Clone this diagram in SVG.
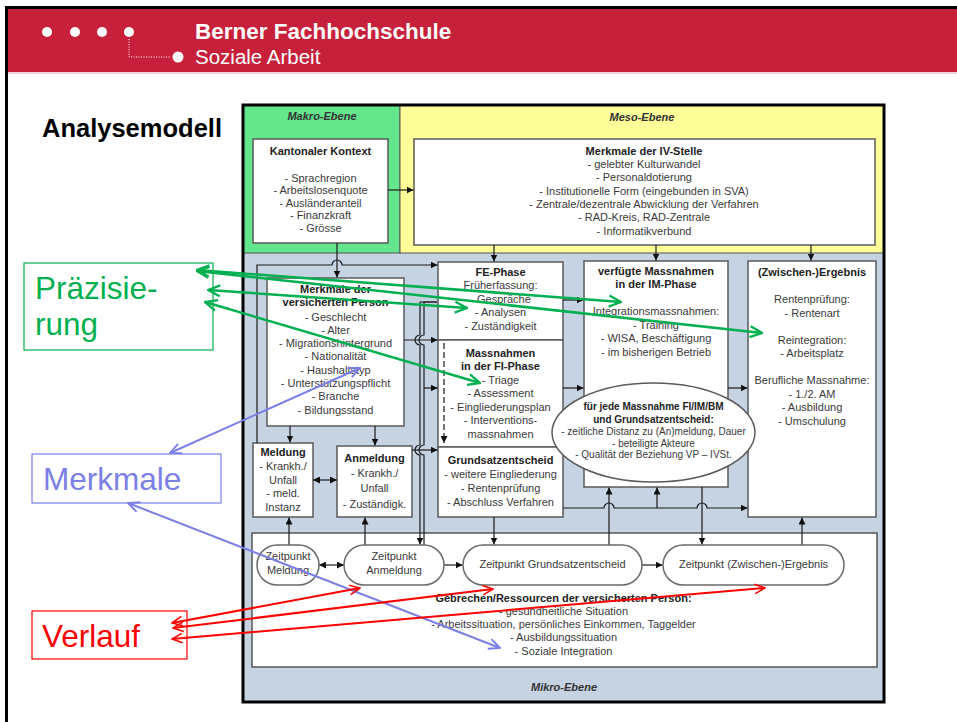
<svg xmlns="http://www.w3.org/2000/svg" width="957" height="722" viewBox="0 0 957 722">
<defs>
<style>
.t{font-family:"Liberation Sans",Arial,sans-serif;font-size:11px;fill:#3a3a3a;text-anchor:middle}
.b{font-weight:bold;fill:#222}
.e{font-size:10px}
.lvl{font-family:"Liberation Sans",Arial,sans-serif;font-size:11px;font-weight:bold;font-style:italic;fill:#333;text-anchor:middle}
.box{fill:#fff;stroke:#5a5a5a;stroke-width:1.5}
.pill{fill:#fff;stroke:#6a6a6a;stroke-width:1.5}
.c{fill:none;stroke:#1a1a1a;stroke-width:1.2}
.ca{fill:none;stroke:#1a1a1a;stroke-width:1.2;marker-end:url(#ah)}
.cb{fill:none;stroke:#1a1a1a;stroke-width:1.2;marker-end:url(#ah);marker-start:url(#ah)}
.big{font-family:"Liberation Sans",Arial,sans-serif;font-size:31.5px}
.gl{fill:none;stroke:#00b050;stroke-width:2.5;marker-start:url(#ga);marker-end:url(#ga)}
.bl{fill:none;stroke:#7b7fe6;stroke-width:2;marker-start:url(#ba);marker-end:url(#ba)}
.rl{fill:none;stroke:#ff0000;stroke-width:2;marker-start:url(#ra);marker-end:url(#ra)}
</style>
<marker id="ah" viewBox="0 0 10 10" refX="10" refY="5" markerWidth="7" markerHeight="7" markerUnits="userSpaceOnUse" orient="auto-start-reverse"><path d="M0,0 L10,5 L0,10 z" fill="#111"/></marker>
<marker id="ga" viewBox="0 0 14 14" refX="13" refY="7" markerWidth="14" markerHeight="14" markerUnits="userSpaceOnUse" orient="auto-start-reverse"><path d="M1,1.5 L13,7 L1,12.5" fill="none" stroke="#00b050" stroke-width="2.3"/></marker>
<marker id="ba" viewBox="0 0 14 14" refX="13" refY="7" markerWidth="13" markerHeight="13" markerUnits="userSpaceOnUse" orient="auto-start-reverse"><path d="M1,1.5 L13,7 L1,12.5" fill="none" stroke="#7b7fe6" stroke-width="2"/></marker>
<marker id="ra" viewBox="0 0 14 14" refX="13" refY="7" markerWidth="12" markerHeight="12" markerUnits="userSpaceOnUse" orient="auto-start-reverse"><path d="M1,1.5 L13,7 L1,12.5" fill="none" stroke="#ff0000" stroke-width="1.8"/></marker>
</defs>

<rect x="0" y="0" width="957" height="722" fill="#fff"/>

<g id="header">
<rect x="8" y="9" width="949" height="63" fill="#c7203b"/>
<line x1="8" y1="73" x2="957" y2="73" stroke="#f2c6cd" stroke-width="1.5"/>
<path d="M6.5,722 V7.5 H957" fill="none" stroke="#000" stroke-width="3"/>
<g fill="#fff">
<circle cx="47" cy="32" r="5"/><circle cx="75" cy="32" r="5"/><circle cx="102" cy="32" r="5"/><circle cx="129" cy="32" r="5"/><circle cx="178" cy="57" r="5.5"/>
</g>
<path d="M129,39 V57 H171" fill="none" stroke="#fff" stroke-width="1" stroke-dasharray="1 1.5"/>
<text x="195" y="39" font-family="Liberation Sans,Arial,sans-serif" font-size="22.5" font-weight="bold" fill="#fff">Berner Fachhochschule</text>
<text x="195" y="64" font-family="Liberation Sans,Arial,sans-serif" font-size="20.5" fill="#fff">Soziale Arbeit</text>
</g>

<text x="42" y="137" font-family="Liberation Sans,Arial,sans-serif" font-size="25.5" font-weight="bold" fill="#000">Analysemodell</text>

<g id="frame">
<rect x="243" y="105" width="641" height="597" fill="#c6d3e3"/>
<rect x="243" y="105" width="157" height="148" fill="#64e68c" stroke="#555" stroke-width="1"/>
<rect x="400" y="105" width="484" height="148" fill="#ffff99" stroke="#555" stroke-width="1"/>
<rect x="252" y="533" width="625" height="134" fill="#fff" stroke="#555" stroke-width="1.5"/>
<rect x="243" y="105" width="641" height="597" fill="none" stroke="#000" stroke-width="3"/>
<text class="lvl" x="322" y="120">Makro-Ebene</text>
<text class="lvl" x="642" y="121">Meso-Ebene</text>
<text class="lvl" x="564" y="691">Mikro-Ebene</text>
</g>

<g id="kanton">
<rect class="box" x="253" y="139" width="135" height="104"/>
<text class="t b" x="320.5" y="155">Kantonaler Kontext</text>
<text class="t" x="320.5" y="181.5">- Sprachregion</text>
<text class="t" x="320.5" y="194">- Arbeitslosenquote</text>
<text class="t" x="320.5" y="206.5">- Ausländeranteil</text>
<text class="t" x="320.5" y="219">- Finanzkraft</text>
<text class="t" x="320.5" y="231.5">- Grösse</text>
</g>

<g id="ivstelle">
<rect class="box" x="414" y="139" width="461" height="106"/>
<text class="t b" x="644" y="155">Merkmale der IV-Stelle</text>
<text class="t" x="644" y="168">- gelebter Kulturwandel</text>
<text class="t" x="644" y="181">- Personaldotierung</text>
<text class="t" x="644" y="194.5">- Institutionelle Form (eingebunden in SVA)</text>
<text class="t" x="644" y="208">- Zentrale/dezentrale Abwicklung der Verfahren</text>
<text class="t" x="644" y="221">- RAD-Kreis, RAD-Zentrale</text>
<text class="t" x="644" y="234.5">- Informatikverbund</text>
</g>

<g id="person">
<rect class="box" x="267" y="278" width="137" height="148"/>
<text class="t b" x="335.5" y="293">Merkmale der</text>
<text class="t b" x="335.5" y="306">versicherten Person</text>
<text class="t" x="335.5" y="320.5">- Geschlecht</text>
<text class="t" x="335.5" y="333.5">- Alter</text>
<text class="t" x="335.5" y="347">- Migrationshintergrund</text>
<text class="t" x="335.5" y="360">- Nationalität</text>
<text class="t" x="335.5" y="373.5">- Haushaltstyp</text>
<text class="t" x="335.5" y="387">- Unterstützungspflicht</text>
<text class="t" x="335.5" y="400">- Branche</text>
<text class="t" x="335.5" y="413.5">- Bildungsstand</text>
</g>

<g id="meldung">
<rect class="box" x="253" y="443" width="60" height="74"/>
<text class="t b" x="283" y="455.5">Meldung</text>
<text class="t" x="283" y="470">- Krankh./</text>
<text class="t" x="283" y="483.5">Unfall</text>
<text class="t" x="283" y="497">- meld.</text>
<text class="t" x="283" y="511">Instanz</text>
</g>

<g id="anmeldung">
<rect class="box" x="337" y="446" width="75" height="71"/>
<text class="t b" x="374.5" y="462">Anmeldung</text>
<text class="t" x="374.5" y="477">- Krankh./</text>
<text class="t" x="374.5" y="492">Unfall</text>
<text class="t" x="374.5" y="508">- Zuständigk.</text>
</g>

<g id="fephase">
<rect class="box" x="438" y="262" width="125" height="78"/>
<text class="t b" x="500.5" y="276">FE-Phase</text>
<text class="t" x="500.5" y="289">Früherfassung:</text>
<text class="t" x="500.5" y="303">- Gespräche</text>
<text class="t" x="500.5" y="316">- Analysen</text>
<text class="t" x="500.5" y="330">- Zuständigkeit</text>
</g>

<g id="fiphase">
<rect class="box" x="438" y="340" width="125" height="107"/>
<text class="t b" x="500.5" y="357">Massnahmen</text>
<text class="t b" x="500.5" y="370">in der FI-Phase</text>
<text class="t" x="500.5" y="383.5">- Triage</text>
<text class="t" x="500.5" y="397">- Assessment</text>
<text class="t" x="500.5" y="411">- Eingliederungsplan</text>
<text class="t" x="500.5" y="424">- Interventions-</text>
<text class="t" x="500.5" y="437.5">massnahmen</text>
</g>

<g id="grundsatz">
<rect class="box" x="438" y="447" width="125" height="70"/>
<text class="t b" x="500.5" y="463.5">Grundsatzentscheid</text>
<text class="t" x="500.5" y="478">- weitere Eingliederung</text>
<text class="t" x="500.5" y="492">- Rentenprüfung</text>
<text class="t" x="500.5" y="505.5">- Abschluss Verfahren</text>
</g>

<g id="imphase">
<rect class="box" x="584" y="261" width="144" height="226"/>
<text class="t b" x="656" y="275">verfügte Massnahmen</text>
<text class="t b" x="656" y="288">in der IM-Phase</text>
<text class="t" x="656" y="315">Integrationsmassnahmen:</text>
<text class="t" x="656" y="329">- Training</text>
<text class="t" x="656" y="342">- WISA, Beschäftigung</text>
<text class="t" x="656" y="355.5">- im bisherigen Betrieb</text>
</g>

<g id="ergebnis">
<rect class="box" x="748" y="261" width="128" height="256"/>
<text class="t b" x="812" y="276">(Zwischen-)Ergebnis</text>
<text class="t" x="812" y="303">Rentenprüfung:</text>
<text class="t" x="812" y="316.5">- Rentenart</text>
<text class="t" x="812" y="343.5">Reintegration:</text>
<text class="t" x="812" y="357">- Arbeitsplatz</text>
<text class="t" x="812" y="384">Berufliche Massnahme:</text>
<text class="t" x="812" y="397.5">- 1./2. AM</text>
<text class="t" x="812" y="411">- Ausbildung</text>
<text class="t" x="812" y="424.5">- Umschulung</text>
</g>

<g id="connectors">
<path class="ca" d="M388,190 H413.5"/>
<path class="ca" d="M337,243 V277.5"/>
<path class="ca" d="M494,245 V261.5"/>
<path class="ca" d="M656,245 V260.5"/>
<path class="ca" d="M811,245 V260.5"/>
<path class="ca" d="M257,443 V265 H332 A5,5 0 0 1 342,265 H437.5"/>
<path class="ca" d="M404,340 H437.5"/>
<path class="ca" d="M290,426 V442.5"/>
<path class="ca" d="M375,426 V445.5"/>
<path class="cb" d="M313,480 H337"/>
<path class="ca" d="M412,450 H437.5"/>
<path class="ca" d="M437,302 H420 V335 A5,5 0 0 0 420,345 V445 A5,5 0 0 0 420,455 V544.5"/>
<path class="c" d="M424,545 V455 A5,5 0 0 1 424,445 V345 A5,5 0 0 1 424,335 V302 H437"/>
<path class="ca" d="M424,388 H437.5"/>
<path class="ca" d="M444,343 V443" stroke-dasharray="6 3"/>
<path class="ca" d="M563,300 H583.5"/>
<path class="ca" d="M563,388 H583.5"/>
<path class="ca" d="M728,388 H747.5"/>
<path class="ca" d="M563,508 H604 A5,5 0 0 1 614,508 H697 A5,5 0 0 1 707,508 H747.5"/>
<path class="ca" d="M657,508 V487.5"/>
<path class="ca" d="M609,545 V487.5"/>
<path class="ca" d="M702,487 V544.5"/>
<path class="ca" d="M802,545 V517.5"/>
<path class="ca" d="M289,545 V517.5"/>
<path class="ca" d="M365,545 V517.5"/>
<path class="ca" d="M494,517 V544.5"/>
<path class="cb" d="M319,565 H344"/>
<path class="ca" d="M444,565 H462.5"/>
<path class="ca" d="M642,565 H662.5"/>
</g>

<g id="ellipse">
<ellipse cx="653.5" cy="432.5" rx="101.5" ry="49.5" fill="#fff" stroke="#5a5a5a" stroke-width="1.5"/>
<text class="t b e" x="653.5" y="410">für jede Massnahme FI/IM/BM</text>
<text class="t b e" x="653.5" y="423">und Grundsatzentscheid:</text>
<text class="t e" x="653.5" y="435">- zeitliche Distanz zu (An)meldung, Dauer</text>
<text class="t e" x="653.5" y="446.5">- beteiligte Akteure</text>
<text class="t e" x="653.5" y="458">- Qualität der Beziehung VP – IVSt.</text>
</g>

<g id="zp-meldung">
<rect class="pill" x="257" y="545" width="62" height="40" rx="20"/>
<text class="t" x="288" y="560">Zeitpunkt</text>
<text class="t" x="288" y="573.5">Meldung</text>
</g>
<g id="zp-anmeldung">
<rect class="pill" x="344" y="545" width="100" height="40" rx="20"/>
<text class="t" x="394" y="559.5">Zeitpunkt</text>
<text class="t" x="394" y="573.5">Anmeldung</text>
</g>
<g id="zp-grundsatz">
<rect class="pill" x="463" y="545" width="179" height="40" rx="20"/>
<text class="t" x="552.5" y="568">Zeitpunkt Grundsatzentscheid</text>
</g>
<g id="zp-ergebnis">
<rect class="pill" x="663" y="545" width="181" height="40" rx="20"/>
<text class="t" x="753.5" y="568">Zeitpunkt (Zwischen-)Ergebnis</text>
</g>

<g id="gebrechen">
<text class="t b" x="563.5" y="602">Gebrechen/Ressourcen der versicherten Person:</text>
<text class="t" x="563.5" y="615">- gesundheitliche Situation</text>
<text class="t" x="563.5" y="628">- Arbeitssituation, persönliches Einkommen, Taggelder</text>
<text class="t" x="563.5" y="641">- Ausbildungssituation</text>
<text class="t" x="563.5" y="654.5">- Soziale Integration</text>
</g>

<g id="praezisierung">
<rect x="24" y="263" width="189" height="87" fill="none" stroke="#00b050" stroke-width="1.2"/>
<text class="big" x="35" y="299" fill="#00b050">Präzisie-</text>
<text class="big" x="35" y="335" fill="#00b050">rung</text>
</g>
<g id="merkmale">
<rect x="32" y="454" width="189" height="49" fill="none" stroke="#7b7fe6" stroke-width="1.2"/>
<text class="big" x="43" y="490" fill="#7b7fe6">Merkmale</text>
</g>
<g id="verlauf">
<rect x="32" y="611" width="155" height="48" fill="none" stroke="#ff0000" stroke-width="1.2"/>
<text class="big" x="42" y="647" fill="#ff0000">Verlauf</text>
</g>

<g id="annotation-connectors">
<path class="gl" d="M197,270 L621,302"/>
<path class="gl" d="M197,271 L762,333"/>
<path class="gl" d="M208,290 L467,308"/>
<path class="gl" d="M205,302 L480,383"/>
<path class="bl" d="M170,453 L360,368"/>
<path class="bl" d="M128,503 L500,648"/>
<path class="rl" d="M172,623 L360,588"/>
<path class="rl" d="M173,628 L493,589"/>
<path class="rl" d="M172,639 L765,588"/>
</g>
</svg>
